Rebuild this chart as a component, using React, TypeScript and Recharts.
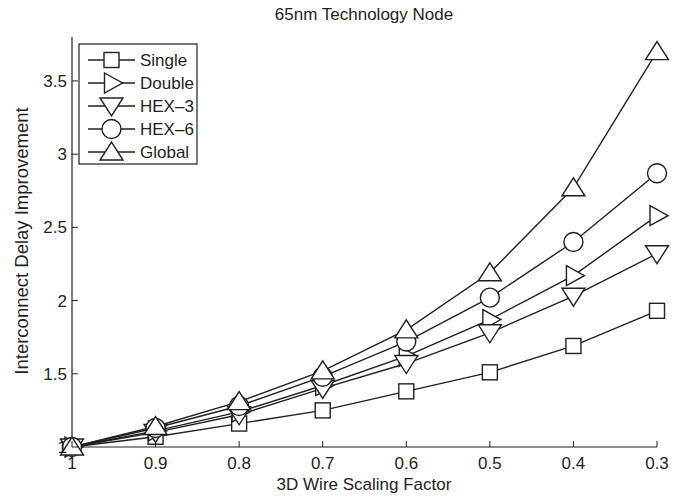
import React from 'react';
import { LineChart, Line, XAxis, YAxis } from 'recharts';

const xValues = [1, 0.9, 0.8, 0.7, 0.6, 0.5, 0.4, 0.3];
const singleVals = [1, 1.07, 1.16, 1.25, 1.38, 1.51, 1.69, 1.93];
const doubleVals = [1, 1.11, 1.24, 1.42, 1.62, 1.87, 2.17, 2.58];
const hex3Vals = [1, 1.1, 1.22, 1.4, 1.57, 1.78, 2.03, 2.32];
const hex6Vals = [1, 1.13, 1.28, 1.48, 1.72, 2.02, 2.4, 2.87];
const globalVals = [1, 1.14, 1.31, 1.52, 1.8, 2.19, 2.77, 3.7];
const xTicks = [1, 0.9, 0.8, 0.7, 0.6, 0.5, 0.4, 0.3];
const yTicks = [1, 1.5, 2, 2.5, 3, 3.5];
const seriesNames = ['Single', 'Double', 'HEX\u20133', 'HEX\u20136', 'Global'];
const seriesKeys = ['single', 'double', 'hex3', 'hex6', 'global'];
const seriesShapes = ['square', 'right', 'down', 'circle', 'up'];

const data = xValues.map((x, i) => ({
  x,
  single: singleVals[i],
  double: doubleVals[i],
  hex3: hex3Vals[i],
  hex6: hex6Vals[i],
  global: globalVals[i],
}));

const INK = '#231f20';
const FONT = 'Liberation Sans, Arial, Helvetica, sans-serif';
const SW = 1.4;

function Marker({ shape, cx, cy }: { shape: string; cx: number; cy: number }) {
  const common = { fill: '#fff', stroke: INK, strokeWidth: SW };
  if (shape === 'square') return <rect x={cx - 7.5} y={cy - 7.5} width={15} height={15} {...common} />;
  if (shape === 'circle') return <circle cx={cx} cy={cy} r={9.5} {...common} />;
  if (shape === 'right')
    return <polygon points={`${cx - 7},${cy - 10} ${cx + 11},${cy} ${cx - 7},${cy + 10}`} {...common} />;
  if (shape === 'down')
    return <polygon points={`${cx - 11.5},${cy - 8} ${cx + 11.5},${cy - 8} ${cx},${cy + 10}`} {...common} />;
  return <polygon points={`${cx - 11.5},${cy + 8} ${cx + 11.5},${cy + 8} ${cx},${cy - 10}`} {...common} />;
}

const fmt = (v: number) => (v === 1 ? '1' : String(v));

const BottomTick = (p: any) => (
  <g>
    <line x1={p.x} x2={p.x} y1={p.y} y2={p.y - 6} stroke={INK} strokeWidth={1} />
    <text x={p.x} y={p.y + 22} textAnchor="middle" fontSize={17} fontFamily={FONT} fill={INK}>
      {fmt(p.payload.value)}
    </text>
  </g>
);
const TopTick = (p: any) => (
  <line x1={p.x} x2={p.x} y1={p.y} y2={p.y + 6} stroke={INK} strokeWidth={1} />
);
const LeftTick = (p: any) => (
  <g>
    <line x1={p.x} x2={p.x + 6} y1={p.y} y2={p.y} stroke={INK} strokeWidth={1} />
    <text x={p.x - 5} y={p.y} dy="0.36em" textAnchor="end" fontSize={17} fontFamily={FONT} fill={INK}>
      {fmt(p.payload.value)}
    </text>
  </g>
);
const RightTick = (p: any) => (
  <line x1={p.x} x2={p.x - 6} y1={p.y} y2={p.y} stroke={INK} strokeWidth={1} />
);

export default function App() {
  return (
    <div style={{ position: 'relative', width: 684, height: 497, background: '#fff' }}>
      <style>{`body{margin:0;background:#fff}`}</style>
      <LineChart width={684} height={497} data={data} margin={{ top: 37, right: 27, bottom: 20, left: 32 }}>
        <XAxis
          xAxisId="b"
          dataKey="x"
          type="number"
          domain={[0.3, 1]}
          reversed
          ticks={xTicks}
          interval={0}
          height={30}
          tickSize={0}
          tickMargin={0}
          tickLine={false}
          axisLine={{ stroke: INK, strokeWidth: 1.2 }}
          tick={<BottomTick />}
        />
        <XAxis
          xAxisId="t"
          orientation="top"
          type="number"
          domain={[0.3, 1]}
          reversed
          allowDataOverflow
          ticks={xTicks}
          interval={0}
          height={0}
          tickSize={0}
          tickMargin={0}
          tickLine={false}
          axisLine={{ stroke: INK, strokeWidth: 1.2 }}
          tick={<TopTick />}
        />
        <YAxis
          yAxisId="l"
          type="number"
          domain={[1, 3.8]}
          ticks={yTicks}
          interval={0}
          width={40}
          tickSize={0}
          tickMargin={0}
          tickLine={false}
          axisLine={{ stroke: INK, strokeWidth: 1.2 }}
          tick={<LeftTick />}
        />
        <YAxis
          yAxisId="r"
          orientation="right"
          type="number"
          domain={[1, 3.8]}
          allowDataOverflow
          ticks={yTicks}
          interval={0}
          width={0}
          tickSize={0}
          tickMargin={0}
          tickLine={false}
          axisLine={{ stroke: INK, strokeWidth: 1.2 }}
          tick={<RightTick />}
        />
        {seriesKeys.map((k, si) => (
          <Line
            key={k}
            xAxisId="b"
            yAxisId="l"
            dataKey={k}
            name={seriesNames[si]}
            stroke={INK}
            strokeWidth={SW}
            isAnimationActive={false}
            activeDot={false}
            legendType="none"
            dot={(p: any) => <Marker key={`${k}-${p.index}`} shape={seriesShapes[si]} cx={p.cx} cy={p.cy} />}
          />
        ))}
      </LineChart>
      <svg
        width={684}
        height={497}
        style={{ position: 'absolute', left: 0, top: 0, pointerEvents: 'none' }}
      >
        <text x={364} y={20} textAnchor="middle" fontSize={17} fontFamily={FONT} fill={INK}>
          65nm Technology Node
        </text>
        <text x={364} y={490} textAnchor="middle" fontSize={17} fontFamily={FONT} fill={INK}>
          3D Wire Scaling Factor
        </text>
        <text
          x={0}
          y={0}
          transform="translate(28,241) rotate(-90)"
          textAnchor="middle"
          fontSize={18.5}
          fontFamily={FONT}
          fill={INK}
        >
          Interconnect Delay Improvement
        </text>
        <rect x={79} y={44} width={118} height={120} fill="#fff" stroke={INK} strokeWidth={1.2} />
        {seriesNames.map((n, i) => {
          const y = 60 + i * 23;
          return (
            <g key={n}>
              <line x1={88} x2={135} y1={y} y2={y} stroke={INK} strokeWidth={SW} />
              <Marker shape={seriesShapes[i]} cx={111.5} cy={y} />
              <text x={140} y={y} dy="0.36em" fontSize={17} fontFamily={FONT} fill={INK}>
                {n}
              </text>
            </g>
          );
        })}
      </svg>
    </div>
  );
}
